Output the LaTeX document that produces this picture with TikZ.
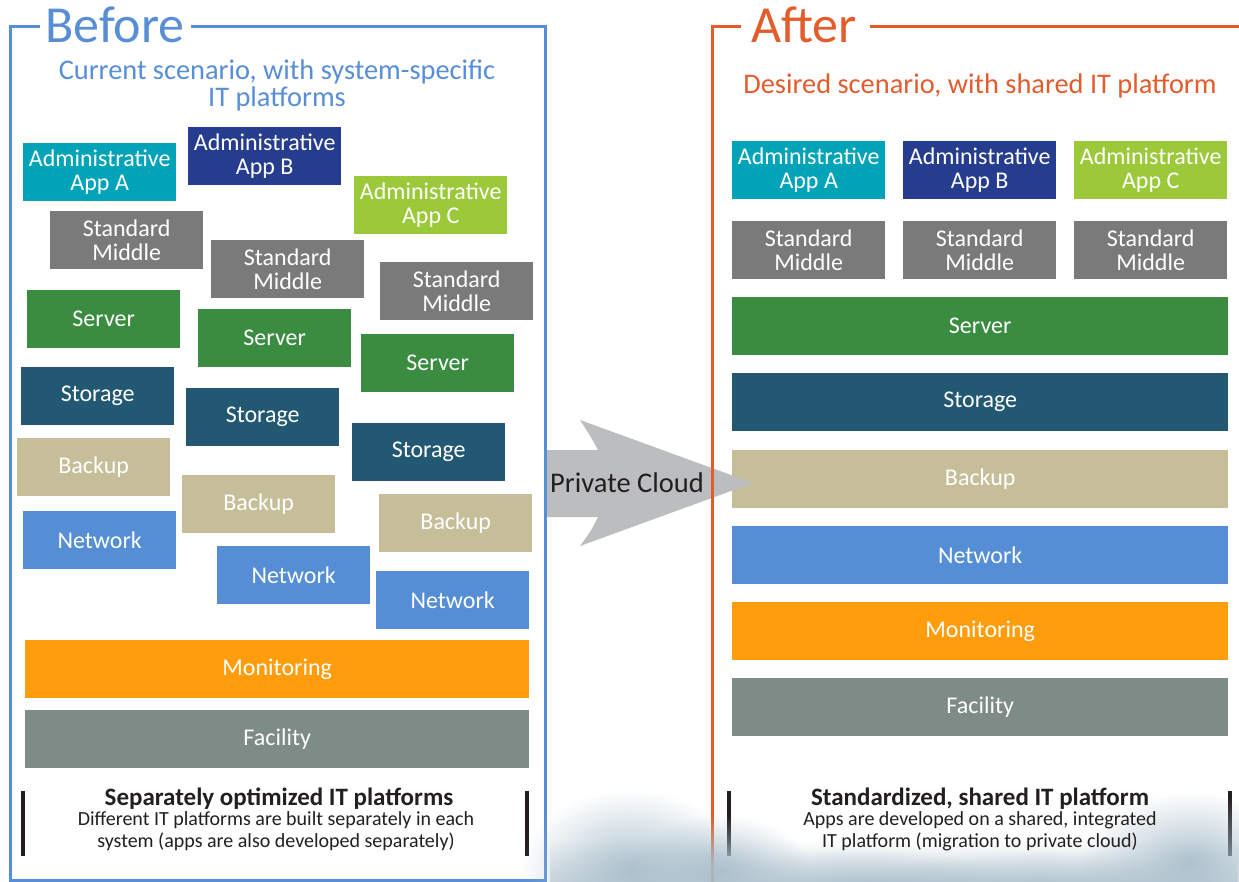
\documentclass[tikz,border=0pt]{standalone}
\usepackage{fontspec}
\setmainfont{Carlito}
\usetikzlibrary{fadings}
\definecolor{befc}{RGB}{88,142,214}
\definecolor{aftc}{RGB}{226,92,44}
\definecolor{appA}{RGB}{0,163,184}
\definecolor{appB}{RGB}{38,60,142}
\definecolor{appC}{RGB}{155,201,58}
\definecolor{midc}{RGB}{122,122,122}
\definecolor{srvc}{RGB}{58,140,64}
\definecolor{stoc}{RGB}{35,88,114}
\definecolor{bakc}{RGB}{197,190,153}
\definecolor{netc}{RGB}{86,142,214}
\definecolor{monc}{RGB}{255,157,13}
\definecolor{facc}{RGB}{126,139,134}
\definecolor{arrc}{RGB}{188,189,191}
\definecolor{inkc}{RGB}{35,31,32}
\definecolor{cloudc}{RGB}{168,189,202}
\tikzfading[name=softglow, inner color=transparent!10, outer color=transparent!100]
\tikzfading[name=upfade, top color=transparent!100, bottom color=transparent!45]
\begin{document}
\begin{tikzpicture}[x=1pt,y=-1pt,
  blk/.style={anchor=north west, minimum width=153pt, minimum height=58pt, inner sep=0pt,
    text=white, align=center, font=\fontsize{24}{24}\selectfont},
  widebar/.style={blk, minimum width=504pt},
  rbar/.style={blk, minimum width=496pt},
  frameB/.style={befc, line width=3pt},
  frameA/.style={aftc, line width=3pt},
  bigtitle/.style={anchor=base, inner sep=0pt, font=\fontsize{52}{52}\selectfont},
  subt/.style={anchor=base, inner sep=0pt, font=\fontsize{28.4}{28}\selectfont},
  headb/.style={anchor=base, inner sep=0pt, text=inkc, font=\fontsize{25}{25}\selectfont\bfseries},
  descr/.style={anchor=base, inner sep=0pt, text=inkc, font=\fontsize{20}{20}\selectfont},
  sidebar/.style={inkc, line width=4pt}]
\useasboundingbox (0,0) rectangle (1239,882);
\fill[white] (0,0) rectangle (1239,882);

% ---------- Before blocks ----------
\node[blk, fill=appA] (lA) at (23,143) {Administrative\\App A};
\node[blk, fill=appB] (lB) at (188,127) {Administrative\\App B};
\node[blk, fill=appC] (lC) at (354,176) {Administrative\\App C};
\node[blk, fill=midc] (lm1) at (50,211) {Standard\\Middle};
\node[blk, fill=midc] (lm2) at (211,240) {Standard\\Middle};
\node[blk, fill=midc] (lm3) at (380,262) {Standard\\Middle};
\node[blk, fill=srvc] (ls1) at (27,290) {Server};
\node[blk, fill=srvc] (ls2) at (198,309) {Server};
\node[blk, fill=srvc] (ls3) at (361,334) {Server};
\node[blk, fill=stoc] (lt1) at (21,367) {Storage};
\node[blk, fill=stoc] (lt2) at (186,388) {Storage};
\node[blk, fill=stoc] (lt3) at (352,423) {Storage};
\node[blk, fill=bakc] (lb1) at (17,438) {Backup};
\node[blk, fill=bakc] (lb2) at (182,475) {Backup};
\node[blk, fill=bakc] (lb3) at (379,494) {Backup};
\node[blk, fill=netc] (ln1) at (23,511) {Network};
\node[blk, fill=netc] (ln2) at (217,546) {Network};
\node[blk, fill=netc] (ln3) at (376,571) {Network};
\node[widebar, fill=monc] (lmon) at (25,640) {Monitoring};
\node[widebar, fill=facc] (lfac) at (25,710) {Facility};

% ---------- After blocks ----------
\node[blk, fill=appA] (rA) at (732,141) {Administrative\\App A};
\node[blk, fill=appB] (rB) at (903,141) {Administrative\\App B};
\node[blk, fill=appC] (rC) at (1074,141) {Administrative\\App C};
\node[blk, fill=midc] (rm1) at (732,221) {Standard\\Middle};
\node[blk, fill=midc] (rm2) at (903,221) {Standard\\Middle};
\node[blk, fill=midc] (rm3) at (1074,221) {Standard\\Middle};
\node[rbar, fill=srvc] (rs) at (732,297) {Server};
\node[rbar, fill=stoc] (rt) at (732,373) {Storage};
\node[rbar, fill=bakc] (rb) at (732,450) {Backup};
\node[rbar, fill=netc] (rn) at (732,526) {Network};
\node[rbar, fill=monc] (rmon) at (732,602) {Monitoring};
\node[rbar, fill=facc] (rfac) at (732,678) {Facility};

% ---------- Arrow ----------
\fill[arrc] (545,450) -- (598,450) .. controls (591,437) .. (580,420) -- (753,483)
  -- (580,546) .. controls (591,531) .. (598,517) -- (545,517) -- cycle;
\node[anchor=base, inner sep=0pt, text=inkc, font=\fontsize{28.5}{28}\selectfont] (pc) at (627,492) {Private Cloud};

% ---------- Frames ----------
\draw[frameB] (40,27) -- (10,27) -- (10,880) -- (545,880) -- (545,27) -- (191,27);
\node[bigtitle, text=befc] (tB) at (115,43) {Before};
\draw[frameA] (741,27) -- (712,27) -- (712,882);
\draw[frameA] (870,27) -- (1239,27);
\node[bigtitle, text=aftc] (tA) at (804,43) {After};

\node[subt, text=befc] (sB1) at (277,80) {Current scenario, with system-specific};
\node[subt, text=befc] (sB2) at (277,107) {IT platforms};
\node[subt, text=aftc] (sA1) at (980,94) {Desired scenario, with shared IT platform};

% ---------- Bottom bars ----------
\draw[sidebar] (23,791) -- (23,856);
\draw[sidebar] (527,791) -- (527,856);
\draw[sidebar] (729,791) -- (729,856);
\draw[sidebar] (1230,791) -- (1230,856);

% ---------- Cloud haze ----------
\fill[cloudc, path fading=upfade] (550,840) rectangle (1239,882);
\fill[cloudc, path fading=softglow] (630,870) ellipse [x radius=110, y radius=80];
\fill[cloudc, path fading=softglow] (720,870) ellipse [x radius=90, y radius=55];
\fill[cloudc, path fading=softglow] (860,892) ellipse [x radius=160, y radius=45];
\fill[cloudc, path fading=softglow] (1040,894) ellipse [x radius=190, y radius=45];
\fill[cloudc, path fading=softglow] (1190,862) ellipse [x radius=110, y radius=70];

% ---------- Bottom texts ----------
\node[headb] (hB) at (279,805) {Separately optimized IT platforms};
\node[descr] (dB1) at (276,825) {Different IT platforms are built separately in each};
\node[descr] (dB2) at (276,847) {system (apps are also developed separately)};
\node[headb] (hA) at (980,805) {Standardized, shared IT platform};
\node[descr] (dA1) at (980,825) {Apps are developed on a shared, integrated};
\node[descr] (dA2) at (980,847) {IT platform (migration to private cloud)};
\end{tikzpicture}
\end{document}
